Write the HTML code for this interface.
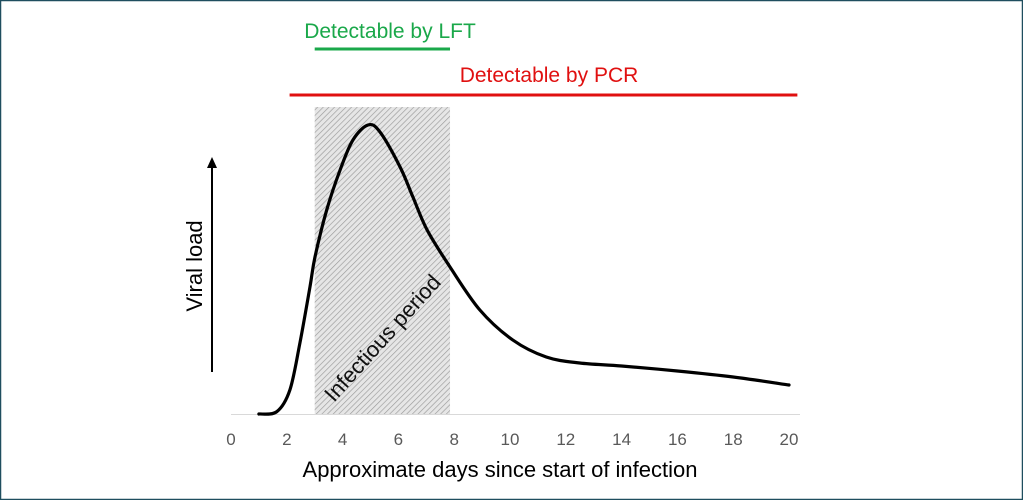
<!DOCTYPE html>
<html><head><meta charset="utf-8"><style>
html,body{margin:0;padding:0;background:#fff}
svg{display:block}
text{font-family:"Liberation Sans",sans-serif}
</style></head><body>
<svg width="1023" height="500" viewBox="0 0 1023 500">
<defs>
<pattern id="hatch" patternUnits="userSpaceOnUse" width="4" height="4" patternTransform="rotate(45)">
<rect width="4" height="4" fill="#e6e6e6"/><line x1="0" y1="0" x2="0" y2="4" stroke="#9a9a9a" stroke-width="1.3"/>
</pattern>
</defs>
<rect x="0.5" y="0.5" width="1022" height="499" fill="#fff" stroke="#1f4e5f" stroke-width="1.5"/>
<g id="chart"></g>
</svg>
<script>
const days=[1,1.64,2.11,2.47,2.83,3.01,3.43,3.91,4.37,4.91,5.34,6.06,6.52,7.03,7.85,8.92,10.1,11.3,12.5,14,16,18,20];
const load=[0,2.3,24,71,127,157,204,244,274,289,282,247,217,184,147,104,74,57,51,48,43,37,29];
const xTicks=[0,2,4,6,8,10,12,14,16,18,20];
const infectious=[3,7.85];
const lft=[3,7.85];
const pcr=[2.1,20.3];
const ns="http://www.w3.org/2000/svg";
const g=document.getElementById('chart');
const X=d=>231+d*27.9, Y=v=>414-v;
function mk(t,a,txt){const e=document.createElementNS(ns,t);for(const k in a)e.setAttribute(k,a[k]);if(txt!==undefined)e.textContent=txt;g.appendChild(e);return e;}
let e;
e=mk('rect',{x:X(infectious[0]),y:107,width:X(infectious[1])-X(infectious[0]),height:307,fill:'url(#hatch)'});


e=mk('line',{x1:231,y1:414.5,x2:800,y2:414.5,stroke:'#d9d9d9','stroke-width':1});


e=mk('text',{x:0,y:0,transform:`translate(388,343) rotate(-48)`,'text-anchor':'middle','font-size':22,fill:'#111'},'Infectious period');


const P=days.map((d,i)=>[X(d),Y(load[i])]);
let dstr=`M${P[0][0]},${P[0][1]}`;
for(let i=0;i<P.length-1;i++){const p0=P[Math.max(0,i-1)],p1=P[i],p2=P[i+1],p3=P[Math.min(P.length-1,i+2)];
dstr+=` C${p1[0]+(p2[0]-p0[0])/6},${p1[1]+(p2[1]-p0[1])/6} ${p2[0]-(p3[0]-p1[0])/6},${p2[1]-(p3[1]-p1[1])/6} ${p2[0]},${p2[1]}`;}
e=mk('path',{d:dstr,fill:'none',stroke:'#000','stroke-width':3.2,'stroke-linecap':'round','stroke-linejoin':'round'});


xTicks.forEach(t=>{const el=mk('text',{x:X(t),y:445,'text-anchor':'middle','font-size':17,fill:'#595959'},String(t));

});
e=mk('text',{x:500,y:477,'text-anchor':'middle','font-size':22,fill:'#000'},'Approximate days since start of infection');


e=mk('line',{x1:212,y1:372,x2:212,y2:166,stroke:'#000','stroke-width':2});


e=mk('path',{d:'M207,168 L212,157 L217,168 Z',fill:'#000'});


e=mk('text',{x:0,y:0,transform:'translate(202,266) rotate(-90)','text-anchor':'middle','font-size':22,fill:'#000'},'Viral load');


e=mk('line',{x1:X(lft[0]),y1:49,x2:X(lft[1]),y2:49,stroke:'#1aa84a','stroke-width':3});


e=mk('text',{x:390,y:38,'text-anchor':'middle','font-size':21,fill:'#1aa84a'},'Detectable by LFT');


e=mk('line',{x1:X(pcr[0]),y1:95,x2:X(pcr[1]),y2:95,stroke:'#e01010','stroke-width':3});


e=mk('text',{x:549,y:82,'text-anchor':'middle','font-size':21,fill:'#e01010'},'Detectable by PCR');


</script>
</body></html>
